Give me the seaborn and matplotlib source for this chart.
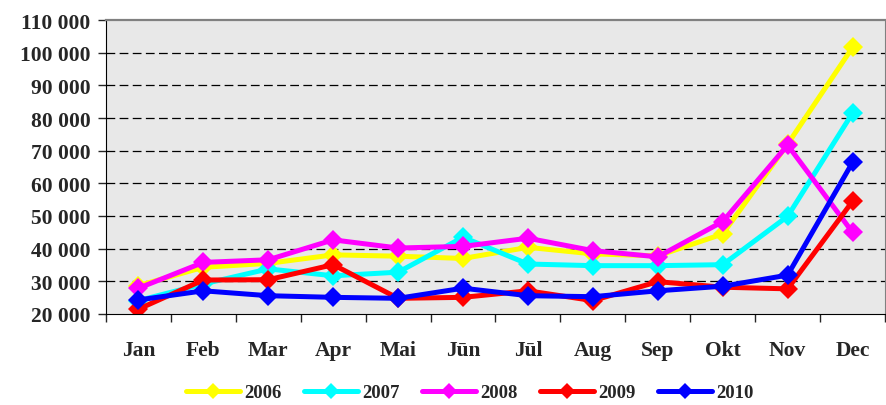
import matplotlib
matplotlib.use("Agg")
import matplotlib.pyplot as plt
from matplotlib.lines import Line2D
from matplotlib.ticker import FuncFormatter, MultipleLocator
import pandas as pd
import seaborn as sns

months = ["Jan", "Feb", "Mar", "Apr", "Mai", "Jūn", "Jūl", "Aug", "Sep", "Okt", "Nov", "Dec"]
years = ["2006", "2007", "2008", "2009", "2010"]

v2006 = [28700, 34300, 35500, 38100, 37700, 37000, 40400, 38400, 37800, 44500, 72000, 101600]
v2007 = [24100, 29200, 33800, 31700, 32800, 43500, 35300, 34800, 34800, 35100, 49900, 81500]
v2008 = [27900, 35800, 36600, 42700, 40200, 40700, 43200, 39400, 37500, 48300, 71700, 45000]
v2009 = [21500, 30400, 30500, 35100, 24800, 25100, 27100, 24100, 29900, 28200, 27700, 54500]
v2010 = [24300, 27100, 25600, 25100, 24800, 27900, 25600, 25300, 27100, 28500, 31900, 66400]

colors = ["#ffff00", "#00ffff", "#ff00ff", "#ff0000", "#0000ff"]

rows = []
for year, vals in zip(years, [v2006, v2007, v2008, v2009, v2010]):
    for i, v in enumerate(vals):
        rows.append([year, i, v])
df = pd.DataFrame(rows, columns=["year", "month", "value"])

sns.set_style("ticks")
plt.rcParams["font.family"] = ["Liberation Serif", "DejaVu Serif"]
plt.rcParams["font.weight"] = "bold"

fig = plt.figure(figsize=(8.86, 4.06), dpi=100)
ax = fig.add_axes([106 / 886, 91 / 406, 779 / 886, 294 / 406])
ax.set_facecolor("#e8e8e8")

sns.lineplot(
    data=df, x="month", y="value", hue="year", palette=colors,
    linewidth=3.6, marker="D", markersize=10, markeredgewidth=0,
    legend=False, ax=ax,
)

ax.set_xlim(-0.5, 11.5)
ax.set_ylim(20000, 110000)
ax.yaxis.set_major_locator(MultipleLocator(10000))
ax.yaxis.set_major_formatter(FuncFormatter(lambda v, p: f"{int(v):,}".replace(",", " ")))
for y in range(30000, 110000, 10000):
    ax.axhline(y, color="black", lw=0.9, ls=(0, (7, 3.5)), zorder=0.5)

# boundary ticks (no labels) and month labels at centres
ax.set_xticks([i + 0.5 for i in range(-1, 12)])
ax.set_xticklabels([])
ax.set_xticks(range(12), minor=True)
ax.set_xticklabels(months, minor=True)
ax.tick_params(axis="x", which="major", length=6, width=1, direction="out")
ax.tick_params(axis="x", which="minor", length=0, pad=19, labelsize=15.5)
ax.tick_params(axis="y", length=6, width=1, direction="out", labelsize=15.5, pad=5)
for lab in ax.get_xticklabels(minor=True) + ax.get_yticklabels():
    lab.set_fontweight("bold")

ax.set_xlabel("")
ax.set_ylabel("")
ax.spines["left"].set_color("black")
ax.spines["bottom"].set_color("black")
ax.spines["top"].set_color("#808080")
ax.spines["right"].set_color("#808080")
ax.spines["top"].set_linewidth(1.6)
for s in ax.spines.values():
    s.set_visible(True)

handles = [Line2D([0], [0], color=c, lw=3.6, marker="D", markersize=8, markeredgewidth=0) for c in colors]
fig.legend(handles, years, loc="center", bbox_to_anchor=(0.53, 0.03), ncol=5,
           frameon=False, handlelength=2.9, handletextpad=0.2, columnspacing=1.2,
           prop={"family": "Liberation Serif", "weight": "bold", "size": 13.5})

plt.savefig("out.png", dpi=100)
plt.close()
